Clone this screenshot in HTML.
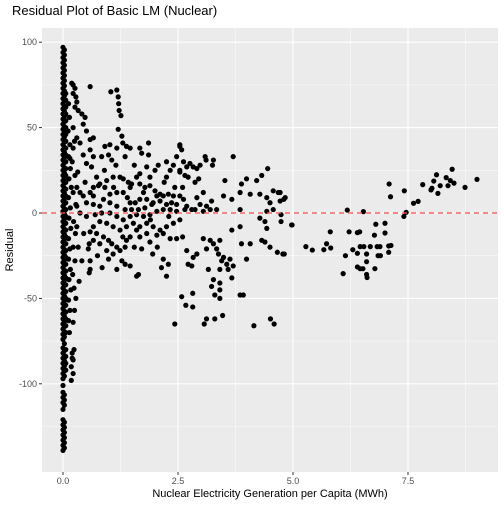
<!DOCTYPE html>
<html><head><meta charset="utf-8"><style>
body{margin:0;background:#fff;}
svg text{font-family:"Liberation Sans",sans-serif;}
</style></head><body>
<svg id="chart" width="504" height="504">
<rect width="504" height="504" fill="#fff"/>
<text x="12" y="15" font-size="13" fill="#000">Residual Plot of Basic LM (Nuclear)</text>
<rect x="42" y="28" width="456" height="444" fill="#ebebeb"/>
<g id="grid"></g>
<g id="points"></g>
<g id="axes"></g>
<text x="270" y="497" font-size="11" text-anchor="middle" fill="#000">Nuclear Electricity Generation per Capita (MWh)</text>
<text transform="translate(13,250) rotate(-90)" font-size="11" text-anchor="middle" fill="#000">Residual</text>
</svg>
<script>
const xTicks=[0,2.5,5,7.5];
const xTickLabels=["0.0","2.5","5.0","7.5"];
const yTicks=[100,50,0,-50,-100];
const yTickLabels=["100","50","0","-50","-100"];
const stripAResid=[97,94,91,88,85,82,79,76,73,70,67,64,61,58,55,52,49,46,43,40,37,34,31,28,25,22,19,16,13,10,7,4,1,-2,-5,-8,-11,-14,-17,-20,-23,-26,-29,-32,-35,-38,-41,-44,-47,-50,-53,-56,-59,-62,-65,-68,-71,-74,-79,-82,-85,-88,-91,-94,-97,-101,-105,-108,-111,-115,-121,-124,-127,-130,-133,-136,-139];
const stripBResid=[70,66,62,58,54,50,46,42,38,34,30,26,22,18,14,10,6,2,-2,-6,-10,-14,-18,-22,-26,-30,-34,-38,-42,-46,-50,-54,-58,-62,-66,-70,-80,-84,-88,-92];
const stripCResid=[95.5,92.5,89.5,86.5,83.5,80.5,77.5,74.5,71.5,68.5,65.5,62.5,59.5,56.5,53.5,50.5,47.5,44.5,41.5,38.5,35.5,32.5,29.5,26.5,23.5,20.5,17.5,14.5,11.5,8.5,5.5,2.5,-0.5,-3.5,-6.5,-9.5,-12.5,-15.5,-18.5,-21.5,-24.5,-27.5,-30.5,-33.5,-36.5,-39.5,-42.5,-45.5,-48.5,-51.5,-54.5,-57.5,-60.5,-63.5,-66.5,-69.5,-72.5,-76.5,-80.5,-83.5,-86.5,-89.5,-92.5,-95.5,-106.5,-109.5,-112.5,-122.5,-125.5,-128.5,-131.5,-134.5,-137.5];
const nearZero=[
[0.12,64],[0.14,56],[0.11,48],[0.15,40],[0.12,33],[0.16,26],[0.13,20],[0.18,15],[0.12,9],[0.16,3],[0.13,-3],[0.17,-9],[0.12,-15],[0.15,-21],[0.12,-27],[0.16,-33],[0.13,-39],[0.17,-45],[0.12,-51],[0.15,-57],[0.12,-63],[0.14,-70],[0.2,-82],[0.22,-86],[0.18,-90],[0.22,-94],[0.18,-98],[0.2,-85],[0.24,-80],
[0.22,50],[0.25,42],[0.2,30],[0.26,22],[0.22,12],[0.28,5],[0.23,-5],[0.27,-12],[0.22,-20],[0.26,-28],[0.21,-36],[0.24,-44],[0.28,-50],[0.25,-57],[0.22,-64],[0.3,15],[0.33,-20],[0.35,-40],[0.32,24],[0.3,-8]
];
const observations=[
[0.15,32],[0.19,76],[0.22,75],[0.26,73],[0.22,70],[0.28,68],[0.30,65],[0.26,62],[0.33,60],[0.41,58],[0.48,56],[0.44,52],[0.51,48],[0.59,43],[0.66,44],[0.59,37],[0.44,34],[0.30,44],[0.37,41],[0.51,29],[0.62,27],[0.66,33],[0.22,38],[0.59,74],
[1.04,71],[1.17,72],[1.20,68],[1.21,64],[1.22,60],[1.26,57],[1.20,49],[1.28,45],[1.38,39],[1.46,38],[1.30,41],[1.17,38],[1.02,40],[0.91,39],[1.35,33],
[0.84,33],[0.99,34],[1.06,31],[1.24,21],[1.31,20],[1.42,18],[1.49,17],[1.09,21],[0.95,19],[0.80,17],[0.66,15],[0.59,12],[0.37,12],[0.44,10],[0.66,10],[0.88,8],[1.02,11],[1.17,12],[1.31,12],[1.46,15],[1.60,21],[1.67,23],[1.82,27],[1.86,34],[1.71,35],[1.89,21],[2.0,25],[2.07,28],[2.25,30],[2.40,28],[2.47,33],[2.54,39],[2.58,37],[2.62,30],[2.69,27],[2.76,29],[2.83,27],[2.91,26],[2.98,28],[3.09,33],[3.27,31],[2.25,21],[2.43,15],[2.54,25],[2.72,21],[2.87,18],[2.33,25],[2.54,24],[2.65,22],[1.67,17],[1.78,15],[1.89,16],[2.0,13],[2.11,11],[2.18,10],[2.29,11],[2.40,10],[2.54,10],[2.62,8],[2.04,10],[1.96,6],[1.82,8],[1.67,8],[1.57,6],[1.46,6],[1.35,2],[1.49,2],[1.64,2],[1.78,3],[1.93,5],[2.11,7],[2.25,5],[2.36,6],[2.47,5],[2.69,4],[2.87,2],[2.98,5],[3.12,4],[3.23,7],[2.91,9],[3.05,12],[1.17,4],[1.02,6],[0.80,4],[0.66,5],[0.51,6],[0.30,4],[0.37,0],[0.51,-2],[0.70,-1],[0.84,0],[1.02,0],[1.17,-2],[1.31,-4],[1.46,-2],[1.60,-1],[1.75,-2],[1.89,-1],[2.04,1],[2.18,2],[2.33,2],[2.47,1],[2.65,2],[2.80,2],[3.05,1],[3.20,2],[3.34,2],[1.53,-6],[1.38,-8],[1.24,-10],[1.09,-8],[0.95,-6],[0.80,-5],[0.66,-8],[0.59,-11],[0.73,-12],[0.88,-14],[0.99,-16],[1.06,-18],[1.17,-20],[1.24,-22],[1.35,-20],[1.38,-16],[1.46,-14],[1.60,-10],[1.67,-8],[1.82,-6],[1.96,-8],[2.11,-10],[2.25,-8],[2.40,-6],[2.54,-4],[1.67,-14],[1.82,-12],[1.89,-17],[2.04,-13],[2.18,-12],[0.95,-22],[1.09,-24],[1.28,-28],[1.35,-30],[1.46,-31],[0.99,-27],[1.17,-33],[1.60,-37],[1.64,-36],[0.41,-28],[0.59,-28],[0.59,-33],[0.57,-35],[0.57,-18],[0.55,-21],[0.66,-16],[1.71,-21],[2.18,-27],[2.14,-32],[2.29,-30],[2.25,-37],[2.33,-15],[2.47,-15],[2.60,-14],[2.69,-22],[2.72,-30],[2.80,-31],[2.83,-26],[2.91,-24],[3.05,-15],[3.12,-21],[3.20,-16],[3.27,-18],[3.34,-21],[3.41,-16],[3.38,-24],[3.45,-28],[3.49,-26],[3.56,-30],[3.63,-27],[3.70,-31],[3.67,-38],[3.59,-33],[3.41,-33],[3.16,-33],[3.27,-39],[3.23,-43],[3.41,-41],[3.41,-45],[3.30,-48],[3.41,-50],[3.85,-8],[3.88,-18],[3.99,-27],[3.67,-10],[2.58,-49],[2.67,-54],[2.82,-47],[2.82,-55],[2.43,-65],[3.07,-65],[3.12,-62],[3.30,-62],[3.47,-60],[3.85,-48],[3.92,-48],[4.15,-66],[4.51,-62],[4.59,-65],
[4.45,26],[4.32,22],[4.21,19],[3.99,20],[3.88,17],[3.85,12],[4.07,11],[4.28,11],[4.43,9],[4.50,6],[4.57,13],[4.68,12],[4.72,7],[4.83,9],[4.57,2],[4.43,1],[4.28,-3],[4.39,-5],[4.43,-9],[4.32,-16],[4.39,-17],[4.50,-20],[4.66,-23],[4.81,-24],[4.74,-5],[4.97,-7],[4.07,-18],[3.85,2],[3.67,8],[3.49,10],[3.52,19],[3.70,33],[3.25,28],[3.11,31],[2.54,40],[1.86,41],[1.67,38],[0.73,21],[0.77,16],[0.91,15],
[1.1,15],[1.4,9],[1.75,12],[2.2,18],[1.55,-20],[1.9,-4],[2.3,-2],[2.6,15],[2.95,20],[0.9,25],[1.15,28],[1.55,28],[0.75,-25],[0.85,-32],[1.95,-24],[2.05,-20],[1.3,-14],[0.48,18],[0.45,-12],[0.8,-18],
[4.72,12],[4.8,8],[4.98,-7],[4.78,-24],[4.74,-1],
[7.09,17],[7.12,9.5],[7.42,13],[7.62,5.7],[7.72,6.8],[7.46,0.4],[7.41,-2],[7.82,16.6],[8.0,13.5],[8.02,14.5],[8.06,18.7],[8.12,22.4],[8.15,11.5],[8.2,16],[8.33,20.7],[8.37,16],[8.42,19],[8.46,25.6],[8.5,17.5],[8.74,15],[9.0,19.7],
[6.18,1.7],[6.53,0.8],[5.28,-19.7],[5.42,-21.7],[5.67,-21.5],[5.73,-18],[5.82,-20.5],[5.81,-11],[6.22,-11],[6.4,-11.5],[6.45,-11],[6.8,-6.6],[7.0,-6],[7.0,-11.7],[6.77,-13],[6.14,-25],[6.09,-35.5],[6.3,-21.5],[6.4,-23.6],[6.46,-19.7],[6.54,-19.7],[6.6,-24],[6.68,-19.7],[6.83,-19.7],[6.89,-19.7],[6.6,-28.5],[6.4,-31.6],[6.46,-32.6],[6.52,-32.6],[6.6,-36],[6.61,-37.8],[6.78,-32.6],[6.85,-25],[6.9,-25],[7.08,-19.3],[7.13,-19],[7.08,-23]
];
const NS="http://www.w3.org/2000/svg";
const L=42,R=498,T=28,B=472;
function xScale(v){return 63+46*v;}
function yScale(v){return 213-1.708*v;}
const grid=document.getElementById('grid'),pts=document.getElementById('points'),axes=document.getElementById('axes');
function line(g,x1,y1,x2,y2,st,w){const l=document.createElementNS(NS,'line');l.setAttribute('x1',x1);l.setAttribute('y1',y1);l.setAttribute('x2',x2);l.setAttribute('y2',y2);l.setAttribute('stroke',st);l.setAttribute('stroke-width',w);g.appendChild(l);return l;}
for(let i=0;i<xTicks.length;i++){const m=xScale(xTicks[i]+1.25);if(m<R){const l=line(grid,m,T,m,B,'#fafafa',0.6);

}}
for(let i=0;i<yTicks.length;i++){const m=yScale(yTicks[i]-25);if(m<B&&m>T){const l=line(grid,L,m,R,m,'#fafafa',0.6);

}}
const topM=yScale(125);if(topM>T){const l=line(grid,L,topM,R,topM,'#fafafa',0.6);

}
xTicks.forEach((t,i)=>{const x=xScale(t);
const g=line(grid,x,T,x,B,'#fff',1.1);


const tk=line(axes,x,B,x,B+3,'#333',1);


const tx=document.createElementNS(NS,'text');tx.setAttribute('x',x);tx.setAttribute('y',B+12);tx.setAttribute('font-size','9');tx.setAttribute('fill','#4d4d4d');tx.setAttribute('text-anchor','middle');tx.textContent=xTickLabels[i];


axes.appendChild(tx);});
yTicks.forEach((t,i)=>{const y=yScale(t);
const g=line(grid,L,y,R,y,'#fff',1.1);


const tk=line(axes,L-3,y,L,y,'#333',1);


const tx=document.createElementNS(NS,'text');tx.setAttribute('x',L-5);tx.setAttribute('y',y+3);tx.setAttribute('font-size','9');tx.setAttribute('fill','#4d4d4d');tx.setAttribute('text-anchor','end');tx.textContent=yTickLabels[i];


axes.appendChild(tx);});
function dot(x,r){const c=document.createElementNS(NS,'circle');c.setAttribute('cx',xScale(x));c.setAttribute('cy',yScale(r));c.setAttribute('r',2.6);c.setAttribute('fill','#000');


pts.appendChild(c);}
stripAResid.forEach(r=>dot(0.0,r));
stripBResid.forEach(r=>dot(0.06,r));
stripCResid.forEach(r=>dot(0.03,r));
nearZero.forEach(p=>dot(p[0],p[1]));
observations.forEach(p=>dot(p[0],p[1]));
const z=line(pts,L,yScale(0),R,yScale(0),'#ff4d4d',1.6);
z.setAttribute('stroke-dasharray','5,4');
z.setAttribute('opacity','0.85');


</script>
</body></html>
